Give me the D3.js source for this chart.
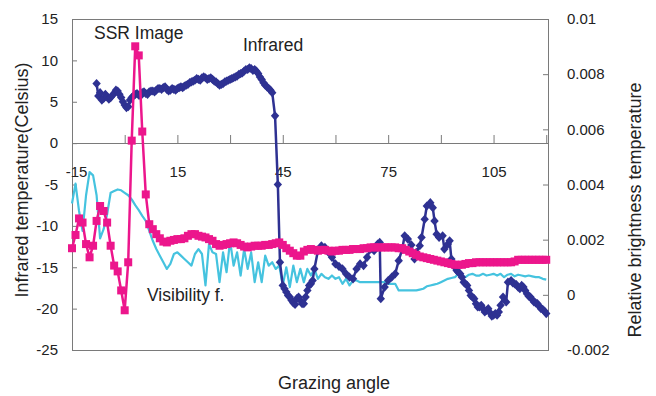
<!DOCTYPE html>
<html>
<head>
<meta charset="utf-8">
<script src="https://cdn.jsdelivr.net/npm/d3@7"></script>
<style>
  html, body { margin: 0; padding: 0; background: #fff; }
  svg { display: block; font-family: "Liberation Sans", Arial, sans-serif; }
</style>
</head>
<body>
<svg id="chart" width="656" height="396"></svg>
<script>
// Infrared temperature (Celsius, left axis) against grazing angle
const irAngle = [
  -8, -7.5, -7, -6.5, -6, -5.5, -5, -4.5, -4, -3.5,
  -3, -2.5, -2, -1.5, -1, -0.5, 0, 0.5, 1, 1.5,
  2, 2.5, 3, 3.5, 4, 4.5, 5, 5.5, 6, 6.5,
  7, 7.5, 8, 8.5, 9, 9.5, 10, 10.5, 11, 11.5,
  12, 12.5, 13, 13.5, 14, 14.5, 15, 15.5, 16, 16.5,
  17, 17.5, 18, 18.5, 19, 19.5, 20, 20.5, 21, 21.5,
  22, 22.5, 23, 23.5, 24, 24.5, 25, 25.5, 26, 26.5,
  27, 27.5, 28, 28.5, 29, 29.5, 30, 30.5, 31, 31.5,
  32, 32.5, 33, 33.5, 34, 34.5, 35, 35.5, 36, 36.5,
  37, 37.5, 38, 38.5, 39, 39.5, 40, 40.5, 41, 41.5,
  42, 42.8, 43.6, 44.2, 45, 45.5, 46, 46.5, 47, 47.5,
  48, 48.5, 49, 49.5, 50, 50.5, 51, 51.5, 52, 52.5,
  53, 53.5, 54, 55, 56, 57, 58, 59, 60, 61,
  62, 63, 64, 65, 66, 67, 68, 69, 70, 71,
  72, 72.6, 72.9, 74, 75, 76, 77, 78, 79, 79.7,
  80.6, 81.6, 82.5, 83, 84, 84.5, 85.4, 86, 87, 87.7,
  88.2, 88.8, 89.5, 90.5, 91, 92, 92.5, 93, 93.5, 94,
  94.5, 95, 95.5, 96, 96.5, 97, 97.5, 98, 98.5, 99,
  99.5, 100, 100.5, 101, 101.5, 102, 102.5, 103, 103.5, 104,
  104.5, 105, 105.5, 106, 106.5, 107, 107.7, 108.6, 109.1, 110,
  110.5, 111, 111.5, 112, 112.5, 113, 113.5, 114, 114.5, 115,
  115.5, 116, 116.5, 117, 117.5, 118, 118.5, 119, 119.5, 120
];
const irTemp = [
  7.2, 5.7, 6.1, 5.2, 5.4, 5.9, 5.6, 5.3, 5.5, 5.8,
  6.0, 6.4, 6.3, 5.9, 5.5, 5.0, 4.6, 4.3, 4.4, 5.2,
  5.5, 5.7, 5.9, 6.0, 5.8, 5.7, 6.1, 6.2, 6.0, 5.9,
  6.2, 6.3, 6.3, 6.2, 6.4, 6.6, 6.6, 6.5, 6.7, 6.8,
  6.5, 6.3, 6.4, 6.6, 6.5, 6.4, 6.6, 6.7, 6.8, 6.7,
  6.9, 7.0, 7.1, 7.3, 7.4, 7.5, 7.6, 7.8, 7.7, 7.6,
  7.9, 8.0, 7.9, 7.7, 7.8, 7.9, 7.7, 7.5, 7.4, 7.2,
  7.0, 7.1, 7.2, 7.4, 7.5, 7.6, 7.7, 7.8, 7.9, 8.0,
  8.1, 8.3, 8.4, 8.5, 8.7, 8.9, 8.9, 9.1, 9.0, 8.8,
  8.9, 8.7, 8.4, 8.0, 7.7, 7.3, 7.0, 6.8, 6.6, 6.4,
  6.1, 3.3, -5.0, -14.4, -17.2, -17.6, -18.0, -18.4, -18.6, -19.0,
  -19.3, -19.5, -18.8, -18.6, -19.0, -19.4, -19.4, -18.6, -17.8, -17.2,
  -17.0, -16.6, -15.2, -13.0, -12.4, -12.6, -13.2, -13.8, -14.6, -14.9,
  -15.2, -15.8, -16.2, -16.4, -15.2, -14.6, -14.8, -13.8, -12.8, -13.0,
  -12.2, -12.0, -18.8, -17.4, -16.6, -16.2, -15.8, -14.2, -12.8, -11.2,
  -11.6, -12.3, -14.0, -13.2, -12.4, -11.4, -9.2, -7.6, -7.2, -7.8,
  -9.4, -11.0, -11.4, -11.2, -12.8, -12.2, -11.8, -14.0, -14.6, -15.0,
  -15.4, -15.6, -15.8, -16.2, -16.8, -17.0, -17.2, -17.8, -18.4, -18.6,
  -18.8, -19.4, -19.8, -19.8, -19.6, -20.0, -20.4, -20.2, -20.0, -20.5,
  -20.9, -20.8, -20.6, -20.8, -20.4, -19.6, -18.6, -19.2, -16.8, -16.6,
  -16.9, -17.0, -17.1, -17.4, -17.6, -17.2, -17.4, -17.8, -18.2, -18.5,
  -18.6, -18.9, -19.2, -19.3, -19.4, -19.7, -20.0, -20.1, -20.3, -20.6
];

// SSR image and visibility function (relative brightness temperature, right axis), one value per degree
const gridAngle = d3.range(-15, 121);
const ssrBright = [
  0.00169, 0.00217, 0.00277, 0.00262, 0.00184, 0.00136, 0.00178, 0.00268, 0.00322, 0.00304,
  0.00262, 0.00178, 0.00106, 0.00085, 0.00016, -0.00056, 0.00118, 0.00559, 0.00901, 0.00868,
  0.00592, 0.00364, 0.00256, 0.00238, 0.00220, 0.00205, 0.00193, 0.00190, 0.00196, 0.00199,
  0.00202, 0.00202, 0.00205, 0.00214, 0.00220, 0.00220, 0.00214, 0.00211, 0.00208, 0.00202,
  0.00196, 0.00184, 0.00178, 0.00181, 0.00184, 0.00187, 0.00190, 0.00187, 0.00181, 0.00175,
  0.00172, 0.00175, 0.00178, 0.00178, 0.00178, 0.00181, 0.00181, 0.00184, 0.00187, 0.00190,
  0.00181, 0.00169, 0.00160, 0.00151, 0.00142, 0.00142, 0.00157, 0.00163, 0.00166, 0.00163,
  0.00160, 0.00163, 0.00163, 0.00160, 0.00157, 0.00160, 0.00160, 0.00163, 0.00163, 0.00163,
  0.00166, 0.00166, 0.00166, 0.00169, 0.00169, 0.00172, 0.00172, 0.00172, 0.00172, 0.00172,
  0.00172, 0.00172, 0.00172, 0.00169, 0.00169, 0.00163, 0.00157, 0.00151, 0.00145, 0.00139,
  0.00136, 0.00133, 0.00130, 0.00127, 0.00124, 0.00121, 0.00118, 0.00115, 0.00112, 0.00109,
  0.00109, 0.00109, 0.00112, 0.00115, 0.00115, 0.00118, 0.00118, 0.00118, 0.00118, 0.00118,
  0.00118, 0.00118, 0.00118, 0.00118, 0.00118, 0.00118, 0.00121, 0.00127, 0.00127, 0.00127,
  0.00127, 0.00127, 0.00127, 0.00127, 0.00127, 0.00127
];
const visBright = [
  0.00331, 0.00403, 0.00304, 0.00232, 0.00361, 0.00445, 0.00433, 0.00361, 0.00205, 0.00238,
  0.00292, 0.00370, 0.00376, 0.00382, 0.00379, 0.00370, 0.00361, 0.00346, 0.00325, 0.00307,
  0.00286, 0.00268, 0.00232, 0.00196, 0.00166, 0.00142, 0.00118, 0.00094, 0.00112, 0.00148,
  0.00154, 0.00142, 0.00130, 0.00118, 0.00106, 0.00148, 0.00166, 0.00148, 0.00034, 0.00184,
  0.00154, 0.00148, 0.00046, 0.00154, 0.00082, 0.00196, 0.00106, 0.00154, 0.00070, 0.00166,
  0.00094, 0.00154, 0.00046, 0.00118, 0.00046, 0.00142, 0.00106, 0.00118, 0.00094, 0.00106,
  0.00034, 0.00100, 0.00028, 0.00106, 0.00046, 0.00094, 0.00046, 0.00094, 0.00070, 0.00094,
  0.00058, 0.00076, 0.00064, 0.00058, 0.00070, 0.00058, 0.00064, 0.00040, 0.00058, 0.00034,
  0.00052, 0.00052, 0.00046, 0.00046, 0.00046, 0.00046, 0.00046, 0.00046, 0.00046, 0.00046,
  0.00040, 0.00040, 0.00040, 0.00016, 0.00016, 0.00016, 0.00016, 0.00016, 0.00016, 0.00019,
  0.00022, 0.00031, 0.00034, 0.00037, 0.00040, 0.00046, 0.00052, 0.00058, 0.00061, 0.00064,
  0.00076, 0.00070, 0.00064, 0.00073, 0.00076, 0.00070, 0.00070, 0.00076, 0.00070, 0.00073,
  0.00076, 0.00070, 0.00076, 0.00064, 0.00073, 0.00076, 0.00067, 0.00073, 0.00070, 0.00067,
  0.00070, 0.00067, 0.00064, 0.00064, 0.00058, 0.00055
];

// Axis ticks and labels
const xTicks = [-15, 0, 15, 30, 45, 60, 75, 90, 105, 120];
const xTickLabels = [-15, 15, 45, 75, 105];
const leftTicks = [-25, -20, -15, -10, -5, 0, 5, 10, 15];
const rightTicks = [-0.002, 0, 0.002, 0.004, 0.006, 0.008, 0.01];

const colors = { ir: "#2E3192", ssr: "#EC168C", vis: "#45C3DF", axis: "#7a7a7a", text: "#222" };

const svg = d3.select("#chart");
const plot = { left: 72, right: 548, top: 19, bottom: 350 };

const x = d3.scaleLinear().domain([-15, 120.5]).range([plot.left, plot.right]);
const yL = d3.scaleLinear().domain([-25, 15]).range([plot.bottom, plot.top]);
const yR = d3.scaleLinear().domain([-0.002, 0.01]).range([plot.bottom, plot.top]);

// Plot frame
svg.append("rect")
  .attr("x", plot.left + 0.5).attr("y", plot.top + 0.5)
  .attr("width", plot.right - plot.left).attr("height", plot.bottom - plot.top)
  .attr("fill", "none").attr("stroke", colors.axis).attr("stroke-width", 1);

function styleAxis(g, size) {
  g.selectAll(".domain, .tick line").attr("stroke", colors.axis);
  g.selectAll("text").attr("fill", colors.text).attr("font-size", size)
    .attr("font-family", "'Liberation Sans', Arial, sans-serif");
}

// Left axis (Infrared temperature)
const gL = svg.append("g").attr("transform", `translate(${plot.left},0)`)
  .call(d3.axisLeft(yL).tickValues(leftTicks).tickSizeInner(-5).tickSizeOuter(0)
    .tickPadding(14).tickFormat(d => String(d)));
styleAxis(gL, 15);

// Right axis (Relative brightness temperature)
const gR = svg.append("g").attr("transform", `translate(${plot.right},0)`)
  .call(d3.axisRight(yR).tickValues(rightTicks).tickSizeInner(-5).tickSizeOuter(0)
    .tickPadding(19).tickFormat(d => String(+d.toFixed(3))));
styleAxis(gR, 15);

// Grazing angle axis crossing at zero temperature
const gX = svg.append("g").attr("transform", `translate(0,${Math.round(yL(0))})`)
  .call(d3.axisBottom(x).tickValues(xTicks).tickSizeInner(-8).tickSizeOuter(0).tickFormat(""));
styleAxis(gX, 15);
const gXL = svg.append("g").attr("transform", `translate(0,${Math.round(yL(0))})`)
  .call(d3.axisBottom(x).tickValues(xTickLabels).tickSize(0).tickPadding(23).tickFormat(d => String(d)));
gXL.select(".domain").remove();
gXL.selectAll(".tick text").attr("dx", d => (d === -15 ? 4 : 0));
styleAxis(gXL, 15);

// Series
const visPts = gridAngle.map((a, i) => [a, visBright[i]]);
const ssrPts = gridAngle.map((a, i) => [a, ssrBright[i]]);
const irPts = irAngle.map((a, i) => [a, irTemp[i]]);

const lineR = d3.line().x(d => x(d[0])).y(d => yR(d[1]));
const lineL = d3.line().x(d => x(d[0])).y(d => yL(d[1]));

svg.append("path").datum(visPts).attr("d", lineR)
  .attr("fill", "none").attr("stroke", colors.vis).attr("stroke-width", 2.2)
  .attr("stroke-linejoin", "round");

svg.append("path").datum(irPts).attr("d", lineL)
  .attr("fill", "none").attr("stroke", colors.ir).attr("stroke-width", 2.5)
  .attr("stroke-linejoin", "round");
svg.append("g").selectAll("path").data(irPts).join("path")
  .attr("transform", d => `translate(${x(d[0])},${yL(d[1])})`)
  .attr("d", "M0,-4.6L4.2,0L0,4.6L-4.2,0Z")
  .attr("fill", colors.ir);

svg.append("path").datum(ssrPts).attr("d", lineR)
  .attr("fill", "none").attr("stroke", colors.ssr).attr("stroke-width", 2.5)
  .attr("stroke-linejoin", "round");
svg.append("g").selectAll("rect").data(ssrPts).join("rect")
  .attr("x", d => x(d[0]) - 4).attr("y", d => yR(d[1]) - 4)
  .attr("width", 8).attr("height", 8)
  .attr("fill", colors.ssr);

// Series annotations
const ann = svg.append("g").attr("fill", colors.text).attr("font-size", 17.5);
ann.append("text").attr("x", 94).attr("y", 39).text("SSR Image");
ann.append("text").attr("x", 243).attr("y", 51).text("Infrared");
ann.append("text").attr("x", 147).attr("y", 300.5).text("Visibility f.");

// Axis titles
svg.append("text").attr("x", 334).attr("y", 389).attr("text-anchor", "middle")
  .attr("font-size", 18).attr("fill", colors.text).text("Grazing angle");
svg.append("text").attr("transform", "translate(28,180) rotate(-90)").attr("text-anchor", "middle")
  .attr("font-size", 18).attr("fill", colors.text).text("Infrared temperature(Celsius)");
svg.append("text").attr("transform", "translate(641,210) rotate(-90)").attr("text-anchor", "middle")
  .attr("font-size", 18).attr("fill", colors.text).text("Relative brightness temperature");
</script>
</body>
</html>
